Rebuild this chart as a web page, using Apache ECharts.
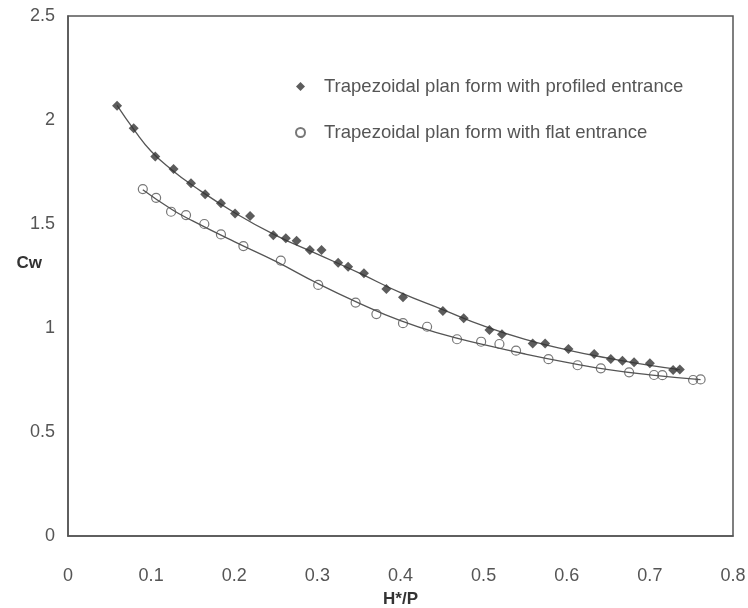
<!DOCTYPE html>
<html>
<head>
<meta charset="utf-8">
<script src="https://cdn.jsdelivr.net/npm/echarts@6/dist/echarts.min.js"></script>
<style>html,body{margin:0;padding:0;background:#fff}#c{width:748px;height:608px}</style>
</head>
<body>
<div id="c"></div>
<script>
// Series names
var seriesNames = ['Trapezoidal plan form with profiled entrance', 'Trapezoidal plan form with flat entrance'];
// Axis ticks
var xTicks = [0, 0.1, 0.2, 0.3, 0.4, 0.5, 0.6, 0.7, 0.8];
var yTicks = [0, 0.5, 1, 1.5, 2, 2.5];

// Profiled entrance (filled diamonds)
var profiledX = [0.059, 0.079, 0.105, 0.127, 0.148, 0.165, 0.184, 0.201, 0.219, 0.247, 0.262, 0.275, 0.291, 0.305, 0.325, 0.337, 0.356, 0.383, 0.403, 0.451, 0.476, 0.507, 0.522, 0.559, 0.574, 0.602, 0.633, 0.653, 0.667, 0.681, 0.700, 0.728, 0.736];
var profiledY = [2.069, 1.960, 1.824, 1.764, 1.696, 1.643, 1.600, 1.551, 1.538, 1.446, 1.431, 1.420, 1.375, 1.375, 1.314, 1.295, 1.263, 1.188, 1.148, 1.082, 1.047, 0.990, 0.970, 0.926, 0.926, 0.899, 0.875, 0.851, 0.843, 0.835, 0.830, 0.798, 0.801];

// Flat entrance (hollow circles)
var flatX = [0.090, 0.106, 0.124, 0.142, 0.164, 0.184, 0.211, 0.256, 0.301, 0.346, 0.371, 0.403, 0.432, 0.468, 0.497, 0.519, 0.539, 0.578, 0.613, 0.641, 0.675, 0.705, 0.715, 0.752, 0.761];
var flatY = [1.668, 1.626, 1.559, 1.543, 1.500, 1.450, 1.394, 1.324, 1.207, 1.122, 1.067, 1.023, 1.006, 0.946, 0.934, 0.923, 0.891, 0.850, 0.821, 0.806, 0.787, 0.774, 0.773, 0.750, 0.753];

// Trend curves
var profiledCurveX = [0.059, 0.08, 0.1, 0.125, 0.15, 0.2, 0.25, 0.3, 0.35, 0.4, 0.45, 0.5, 0.55, 0.6, 0.65, 0.7, 0.736];
var profiledCurveY = [2.07, 1.95, 1.85, 1.76, 1.685, 1.555, 1.445, 1.355, 1.265, 1.17, 1.09, 1.01, 0.945, 0.895, 0.855, 0.82, 0.80];
var flatCurveX = [0.09, 0.125, 0.15, 0.2, 0.25, 0.3, 0.35, 0.4, 0.45, 0.5, 0.55, 0.6, 0.65, 0.7, 0.761];
var flatCurveY = [1.665, 1.57, 1.515, 1.415, 1.32, 1.215, 1.12, 1.035, 0.97, 0.92, 0.875, 0.835, 0.80, 0.775, 0.752];

function zip(xs, ys) { return xs.map(function (x, i) { return [x, ys[i]]; }); }

var chart = echarts.init(document.getElementById('c'), null, { renderer: 'canvas' });
var font = 'Liberation Sans, Arial, sans-serif';
chart.setOption({
  animation: false,
  backgroundColor: '#fff',
  textStyle: { fontFamily: font },
  grid: { left: 68, right: 15, top: 16, bottom: 72, outerBoundsMode: 'none', containLabel: false,
          show: true, borderColor: '#555', borderWidth: 1.5, backgroundColor: 'transparent' },
  legend: {
    orient: 'vertical', left: 290, top: 72, itemGap: 27, itemWidth: 9, itemHeight: 9,
    data: seriesNames,
    textStyle: { fontSize: 18.5, color: '#555', padding: [0, 0, 0, 14], fontFamily: font }
  },
  xAxis: {
    type: 'value', min: xTicks[0], max: xTicks[xTicks.length - 1], interval: 0.1,
    name: 'H*/P', nameLocation: 'middle', nameGap: 55, nameMoveOverlap: false,
    nameTextStyle: { fontSize: 17, fontWeight: 'bold', color: '#333', fontFamily: font },
    axisLine: { show: true, lineStyle: { color: '#555', width: 1.5 } },
    axisTick: { show: false }, splitLine: { show: false },
    axisLabel: { fontSize: 18, color: '#555', margin: 31, fontFamily: font }
  },
  yAxis: {
    type: 'value', min: yTicks[0], max: yTicks[yTicks.length - 1], interval: 0.5,
    name: 'Cw', nameLocation: 'middle', nameGap: 26, nameRotate: 0, nameMoveOverlap: false,
    nameTextStyle: { fontSize: 17, fontWeight: 'bold', color: '#333', align: 'right', verticalAlign: 'bottom', padding: [0, 0, 4, 0], fontFamily: font },
    axisLine: { show: true, lineStyle: { color: '#555', width: 1.5 } },
    axisTick: { show: false }, splitLine: { show: false },
    axisLabel: { fontSize: 18, color: '#555', margin: 13, fontFamily: font }
  },
  series: [
    { type: 'line', data: zip(profiledCurveX, profiledCurveY), smooth: true, showSymbol: false, silent: true,
      lineStyle: { color: '#555', width: 1.3 }, z: 1 },
    { type: 'line', data: zip(flatCurveX, flatCurveY), smooth: true, showSymbol: false, silent: true,
      lineStyle: { color: '#555', width: 1.3 }, z: 1 },
    { name: seriesNames[0], type: 'scatter', data: zip(profiledX, profiledY), symbol: 'diamond', symbolSize: 10,
      itemStyle: { color: '#333' }, z: 3 },
    { name: seriesNames[1], type: 'scatter', data: zip(flatX, flatY), symbol: 'circle', symbolSize: 9,
      itemStyle: { color: 'rgba(255,255,255,0)', borderColor: '#555', borderWidth: 1.2 }, z: 3 }
  ]
});
</script>
</body>
</html>
